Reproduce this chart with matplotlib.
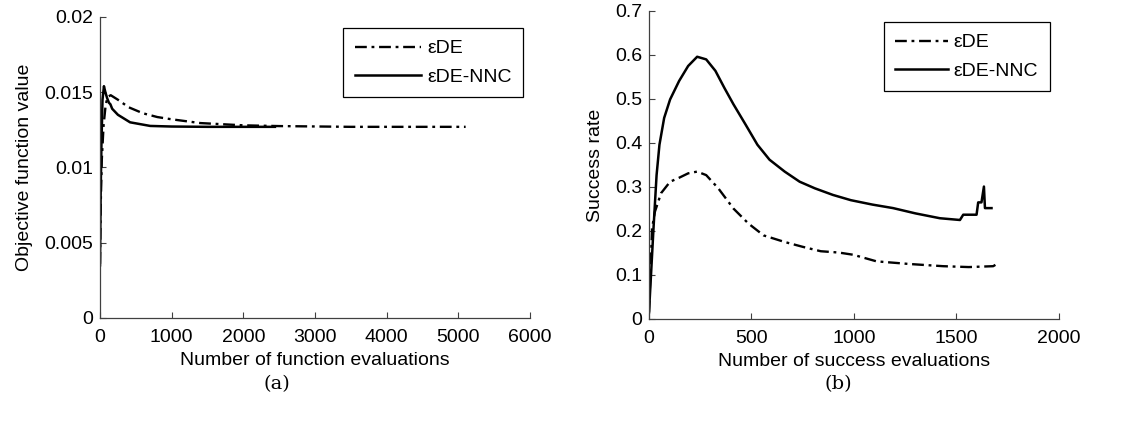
import matplotlib
matplotlib.use('Agg')
import matplotlib.pyplot as plt

plt.rcParams['font.family'] = ['Liberation Sans', 'DejaVu Sans']

# (a) objective function value vs number of function evaluations
fe_ede = [0, 10, 25, 50, 80, 110, 150, 250, 400, 600, 800, 1000, 1400, 2000, 2500, 3500, 5100]
obj_ede = [0.0036, 0.0075, 0.0105, 0.0128, 0.0142, 0.0147, 0.0148, 0.0145, 0.0140, 0.0136,
           0.01335, 0.0132, 0.01295, 0.0128, 0.01275, 0.0127, 0.0127]
fe_nnc = [0, 10, 20, 35, 55, 75, 100, 125, 145, 170, 250, 420, 700, 1000, 1500, 2440]
obj_nnc = [0.0035, 0.0085, 0.0115, 0.0145, 0.0154, 0.0150, 0.0146, 0.0143, 0.0142, 0.0139,
           0.0135, 0.0130, 0.01276, 0.01272, 0.0127, 0.0127]

# (b) success rate vs number of success evaluations
se_ede = [0, 15, 29, 59, 103, 147, 191, 235, 279, 338, 412, 485, 559, 662, 750, 838, 926,
          996, 1110, 1270, 1435, 1560, 1679, 1690]
sr_ede = [0.015, 0.206, 0.244, 0.286, 0.312, 0.321, 0.331, 0.335, 0.327, 0.297, 0.251,
          0.217, 0.190, 0.175, 0.164, 0.154, 0.151, 0.146, 0.131, 0.125, 0.120, 0.118,
          0.120, 0.123]
se_nnc = [0, 22, 37, 51, 74, 103, 147, 191, 235, 279, 324, 368, 412, 471, 529, 588, 662,
          735, 809, 897, 985, 1090, 1191, 1300, 1419, 1517, 1533, 1598, 1606, 1622, 1634,
          1639, 1671]
sr_nnc = [0.015, 0.206, 0.327, 0.396, 0.457, 0.499, 0.541, 0.575, 0.596, 0.590, 0.564,
          0.525, 0.488, 0.442, 0.396, 0.362, 0.335, 0.312, 0.297, 0.282, 0.270, 0.260,
          0.252, 0.240, 0.229, 0.225, 0.237, 0.237, 0.265, 0.265, 0.301, 0.252, 0.252]

labels = ['\u03b5DE', '\u03b5DE-NNC']
dashdot = (5, 2, 1.2, 2)
fs = 14

fig = plt.figure(figsize=(11.35, 4.21), dpi=100)
ax1 = fig.add_axes([0.0881, 0.2447, 0.379, 0.715])
ax2 = fig.add_axes([0.5718, 0.2423, 0.3612, 0.7316])

ax1.plot(fe_ede, obj_ede, color='black', lw=1.7, dashes=dashdot, label=labels[0])
ax1.plot(fe_nnc, obj_nnc, color='black', lw=1.8, label=labels[1])
ax1.set_xlim(0, 6000)
ax1.set_ylim(0, 0.02)
ax1.set_xticks([0, 1000, 2000, 3000, 4000, 5000, 6000])
ax1.set_yticks([0, 0.005, 0.01, 0.015, 0.02])
ax1.set_yticklabels(['0', '0.005', '0.01', '0.015', '0.02'])
ax1.set_xlabel('Number of function evaluations', fontsize=fs, labelpad=4)
ax1.set_ylabel('Objective function value', fontsize=fs, labelpad=8)

ax2.plot(se_ede, sr_ede, color='black', lw=1.7, dashes=dashdot, label=labels[0])
ax2.plot(se_nnc, sr_nnc, color='black', lw=1.8, label=labels[1])
ax2.set_xlim(0, 2000)
ax2.set_ylim(0, 0.7)
ax2.set_xticks([0, 500, 1000, 1500, 2000])
ax2.set_yticks([0, 0.1, 0.2, 0.3, 0.4, 0.5, 0.6, 0.7])
ax2.set_yticklabels(['0', '0.1', '0.2', '0.3', '0.4', '0.5', '0.6', '0.7'])
ax2.set_xlabel('Number of success evaluations', fontsize=fs, labelpad=4)
ax2.set_ylabel('Success rate', fontsize=fs, labelpad=8)

legend_pos = [(0.984, 0.963), (0.978, 0.964)]
handle_len = [3.4, 2.7]
for ax, pos, hl in zip([ax1, ax2], legend_pos, handle_len):
    for side in ['top', 'right']:
        ax.spines[side].set_visible(False)
    for side in ['left', 'bottom']:
        ax.spines[side].set_color('#404040')
        ax.spines[side].set_linewidth(0.9)
    ax.tick_params(direction='in', length=4, width=0.8, labelsize=fs, color='#404040')
    ax.tick_params(axis='x', pad=8)
    ax.tick_params(axis='y', pad=5)
    leg = ax.legend(loc='upper right', bbox_to_anchor=pos, borderaxespad=0,
                    fontsize=fs, handlelength=hl, handletextpad=0.3,
                    fancybox=False, framealpha=1, edgecolor='black', borderpad=0.6,
                    labelspacing=0.55)
    leg.get_frame().set_linewidth(0.9)

fig.text(277 / 1135, 1 - 384 / 421, '(a)', ha='center', va='center',
         fontsize=fs, family='DejaVu Serif')
fig.text(838 / 1135, 1 - 384 / 421, '(b)', ha='center', va='center',
         fontsize=fs, family='DejaVu Serif')

fig.savefig('out.png', dpi=100)
